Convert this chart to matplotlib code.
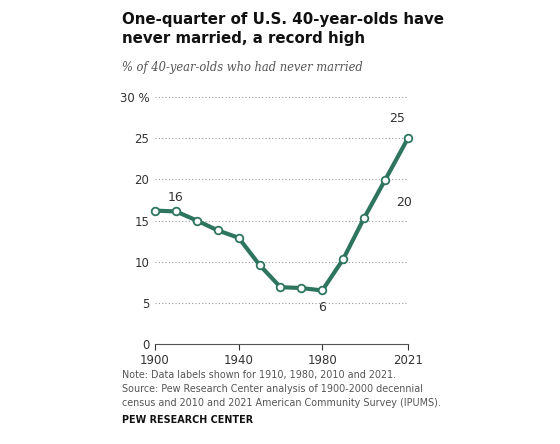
import matplotlib
matplotlib.use("Agg")
import matplotlib.pyplot as plt

years = [1900, 1910, 1920, 1930, 1940, 1950, 1960, 1970, 1980, 1990, 2000, 2010, 2021]
values = [16.2, 16.1, 15.0, 13.8, 12.9, 9.6, 6.9, 6.8, 6.5, 10.3, 15.3, 19.9, 25.0]
labels = {1910: "16", 1980: "6", 2010: "20", 2021: "25"}
xticks = [1900, 1940, 1980, 2021]
yticks = [0, 5, 10, 15, 20, 25, 30]
color = "#2e7560"

fig = plt.figure(figsize=(5.6, 4.44), dpi=100)
ax = fig.add_axes([155/560, 1-344/444, (408-155)/560, (344-97)/444])
ax.plot(years, values, color=color, lw=3, marker="o", ms=5.5, mfc="white", mec=color, mew=1.3, zorder=3, clip_on=False)
ax.set_xlim(1900, 2021)
ax.set_ylim(0, 30)
ax.set_yticks(yticks)
ax.set_yticklabels([str(t) if t != 30 else "30 %" for t in yticks])
ax.set_xticks(xticks)
for t in yticks[1:]:
    ax.axhline(t, color="#999999", lw=0.8, ls=(0, (1, 2)), zorder=1)
for s in ["top", "right", "left"]:
    ax.spines[s].set_visible(False)
ax.spines["bottom"].set_color("#555555")
ax.tick_params(axis="y", length=0, labelsize=8.5, colors="#333333", pad=4)
ax.tick_params(axis="x", length=4, labelsize=8.5, colors="#333333", direction="out", pad=3)
offs = {1910: (0, 10, "center"), 1980: (0, -12, "center"), 2010: (14, -16, "center"), 2021: (-8, 14, "center")}
for y, v in zip(years, values):
    if y in labels:
        dx, dy, ha = offs[y]
        ax.annotate(labels[y], (y, v), xytext=(dx, dy), textcoords="offset points", ha=ha, va="center", fontsize=9, color="#333333")

fig.text(122/560, 1-12/444, "One-quarter of U.S. 40-year-olds have\nnever married, a record high", fontsize=10.8, fontweight="bold", va="top", ha="left", linespacing=1.3, color="#111111")
fig.text(122/560, 1-67/444, "% of 40-year-olds who had never married", fontsize=8.3, style="italic", color="#555555", va="center", family="DejaVu Serif")
fig.text(122/560, 1-389/444, "Note: Data labels shown for 1910, 1980, 2010 and 2021.\nSource: Pew Research Center analysis of 1900-2000 decennial\ncensus and 2010 and 2021 American Community Survey (IPUMS).", fontsize=6.9, color="#555555", va="center", linespacing=1.45)
fig.text(122/560, 1-420/444, "PEW RESEARCH CENTER", fontsize=6.9, fontweight="bold", color="#111111", va="center")
fig.savefig("out.png", dpi=100)
